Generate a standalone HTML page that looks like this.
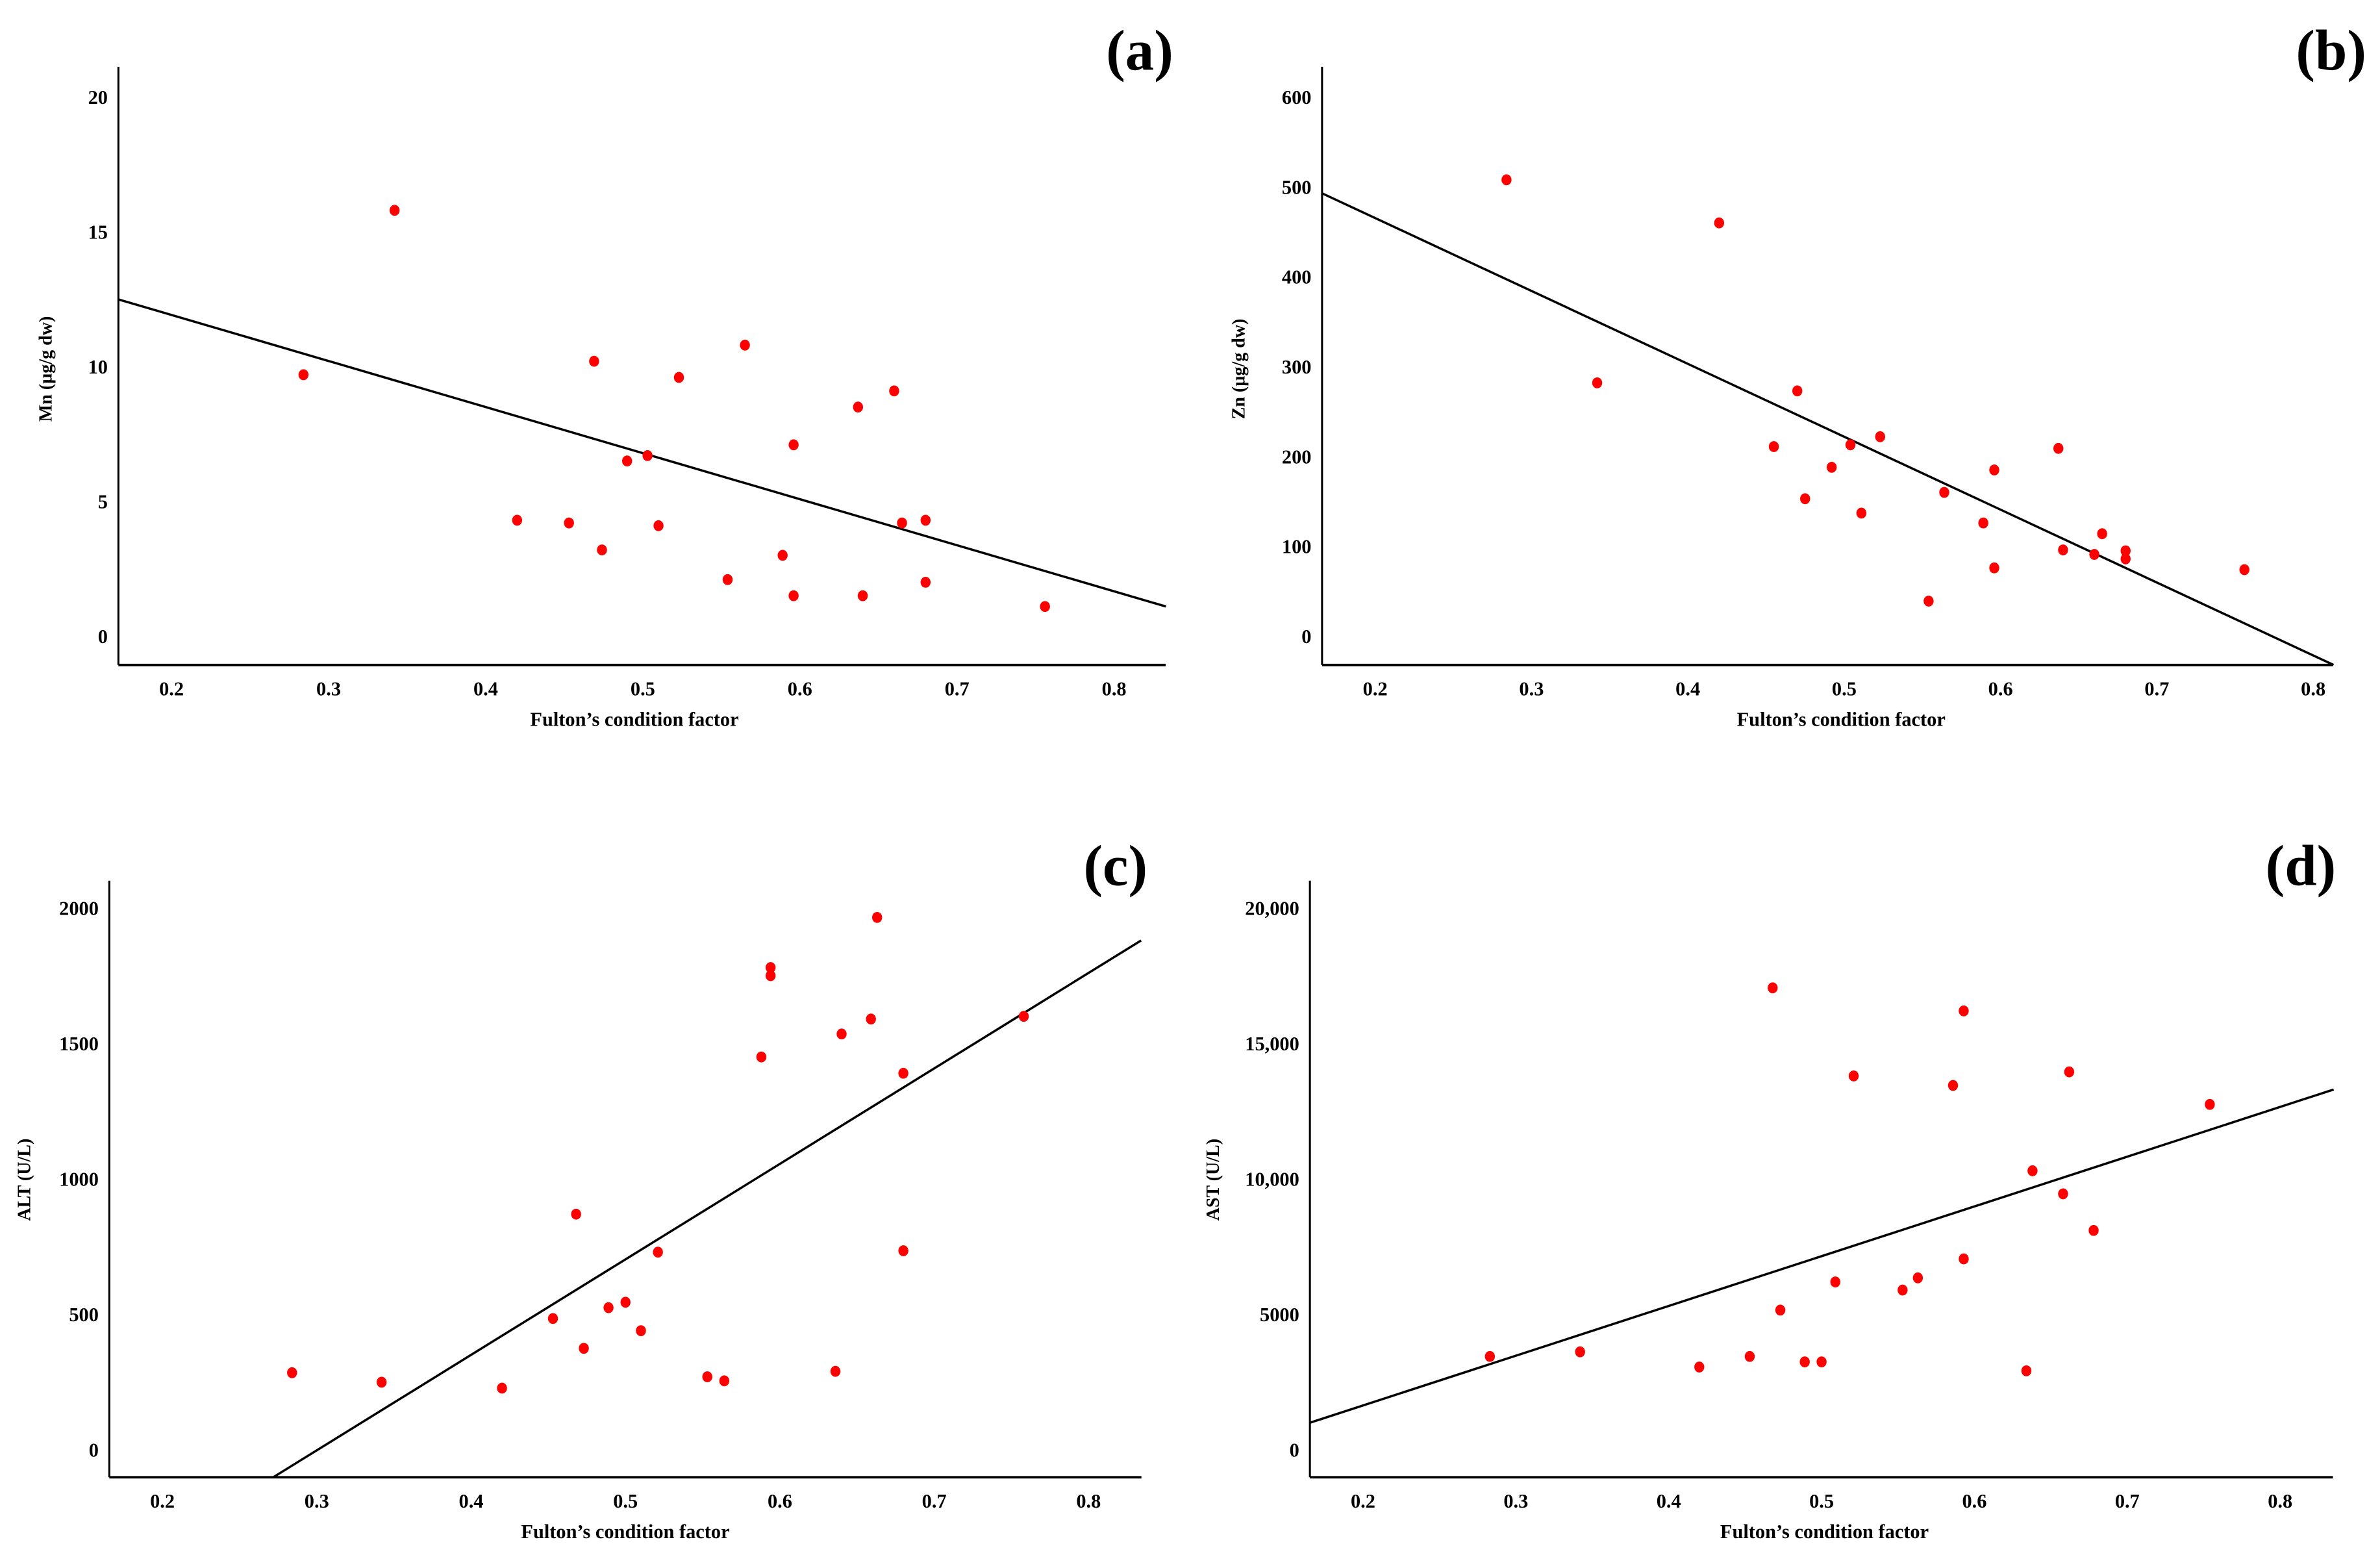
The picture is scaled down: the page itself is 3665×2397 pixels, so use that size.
<!DOCTYPE html>
<html><head><meta charset="utf-8"><style>
html,body{margin:0;padding:0;background:#fff;}
svg{display:block;}
text{font-family:"Liberation Serif",serif;font-weight:bold;fill:#000;}
</style></head><body>
<svg id="chart" width="3665" height="2397" viewBox="0 0 1568 1025.5" preserveAspectRatio="none" xmlns="http://www.w3.org/2000/svg"></svg>
<script>
const xTicks = [0.2,0.3,0.4,0.5,0.6,0.7,0.8];
const xTickLabels = ["0.2","0.3","0.4","0.5","0.6","0.7","0.8"];
// Panel a: Mn
const aX = [0.284,0.342,0.42,0.453,0.469,0.474,0.49,0.503,0.51,0.523,0.554,0.565,0.589,0.596,0.596,0.637,0.64,0.66,0.665,0.68,0.68,0.756];
const aY = [9.7,15.8,4.3,4.2,10.2,3.2,6.5,6.7,4.1,9.6,2.1,10.8,3.0,7.1,1.5,8.5,1.5,9.1,4.2,4.3,2.0,1.1];
const aFitX = [0.166,0.833];
const aFitY = [12.5,1.1];
const aYTicks = [0,5,10,15,20];
const aYTickLabels = ["0","5","10","15","20"];
// Panel b: Zn
const bX = [0.284,0.342,0.42,0.455,0.47,0.475,0.492,0.504,0.511,0.523,0.554,0.564,0.589,0.596,0.596,0.637,0.64,0.66,0.665,0.68,0.68,0.756];
const bY = [508,282,460,211,273,153,188,213,137,222,39,160,126,185,76,209,96,91,114,95,86,74];
const bFitX = [0.166,0.813];
const bFitY = [493,-32];
const bYTicks = [0,100,200,300,400,500,600];
const bYTickLabels = ["0","100","200","300","400","500","600"];
// Panel c: ALT
const cX = [0.284,0.342,0.42,0.453,0.468,0.473,0.489,0.5,0.51,0.521,0.553,0.564,0.588,0.594,0.594,0.636,0.64,0.659,0.663,0.68,0.68,0.758];
const cY = [285,250,228,485,870,375,525,545,440,730,270,255,1450,1780,1750,290,1535,1590,1965,1390,735,1600];
const cFitX = [0.272,0.834];
const cFitY = [-100,1880];
const cYTicks = [0,500,1000,1500,2000];
const cYTickLabels = ["0","500","1000","1500","2000"];
// Panel d: AST
const dX = [0.283,0.342,0.42,0.453,0.468,0.473,0.489,0.5,0.509,0.521,0.553,0.563,0.586,0.593,0.593,0.634,0.638,0.658,0.662,0.678,0.754];
const dY = [3450,3620,3060,3450,17050,5160,3250,3250,6200,13800,5900,6350,13450,16200,7050,2920,10300,9450,13950,8100,12750];
const dFitX = [0.165,0.835];
const dFitY = [1000,13300];
const dYTicks = [0,5000,10000,15000,20000];
const dYTickLabels = ["0","5000","10,000","15,000","20,000"];

const NS="http://www.w3.org/2000/svg";
const svg=document.getElementById('chart');
function mk(tag,attrs,parent){const e=document.createElementNS(NS,tag);for(const k in attrs)e.setAttribute(k,attrs[k]);(parent||svg).appendChild(e);return e;}

function panel(p){
  const g=mk('g',{});
  
  
  const xs=v=>p.x02+(v-0.2)*p.xUnit*10;
  const ys=v=>p.y0-(v-p.yT[0])/(p.yT[p.yT.length-1]-p.yT[0])*(p.y0-p.yTop);
  // axes
  const ya=mk('line',{x1:p.ax,y1:p.axTop,x2:p.ax,y2:p.axB,stroke:'#000','stroke-width':1.3},g);
  
  
  const xa=mk('line',{x1:p.ax,y1:p.axB,x2:p.axR,y2:p.axB,stroke:'#000','stroke-width':1.6},g);
  
  
  xTicks.forEach((v,i)=>{const t=mk('text',{x:xs(v),y:p.axB+20,'text-anchor':'middle','font-size':13},g);t.textContent=xTickLabels[i];
    
    });
  p.yT.forEach((v,i)=>{const t=mk('text',{x:p.ax-7,y:ys(v)+4.5,'text-anchor':'end','font-size':13},g);t.textContent=p.yL[i];
    
    });
  const fl=mk('line',{x1:xs(p.fx[0]),y1:ys(p.fy[0]),x2:xs(p.fx[1]),y2:ys(p.fy[1]),stroke:'#000','stroke-width':1.5},g);
  
  
  p.X.forEach((v,i)=>{const c=mk('ellipse',{cx:xs(v),cy:ys(p.Y[i]),rx:3.3,ry:3.6,fill:'#ff0000'},g);
    
    });
  const xt=mk('text',{x:p.xtX,y:p.axB+40,'text-anchor':'middle','font-size':13},g);xt.textContent="Fulton’s condition factor";
  
  
  const yt=mk('text',{x:0,y:0,'text-anchor':'middle','font-size':12,transform:`translate(${p.ytX},${p.ytY}) rotate(-90)`},g);yt.textContent=p.ytitle;
  
  
  const pl=mk('text',{x:p.plX,y:p.plY,'text-anchor':'end','font-size':38},g);pl.textContent='('+p.id+')';
  
  
}
panel({id:'a',x02:113,xUnit:103.5,y0:419,yTop:64,yT:aYTicks,yL:aYTickLabels,ax:78,axTop:44,axB:438,axR:768,X:aX,Y:aY,fx:aFitX,fy:aFitY,xtX:418,ytX:34,ytY:243,ytitle:'Mn (µg/g dw)',plX:773,plY:46});
panel({id:'b',x02:906,xUnit:103,y0:419,yTop:64,yT:bYTicks,yL:bYTickLabels,ax:871,axTop:44,axB:438,axR:1537,X:bX,Y:bY,fx:bFitX,fy:bFitY,xtX:1213,ytX:820,ytY:243,ytitle:'Zn (µg/g dw)',plX:1559,plY:46});
panel({id:'c',x02:107,xUnit:101.7,y0:955,yTop:598,yT:cYTicks,yL:cYTickLabels,ax:72,axTop:580,axB:973,axR:752,X:cX,Y:cY,fx:cFitX,fy:cFitY,xtX:412,ytX:20,ytY:777,ytitle:'ALT (U/L)',plX:756,plY:583});
panel({id:'d',x02:898,xUnit:100.7,y0:955,yTop:598,yT:dYTicks,yL:dYTickLabels,ax:863,axTop:580,axB:973,axR:1537,X:dX,Y:dY,fx:dFitX,fy:dFitY,xtX:1202,ytX:803,ytY:777,ytitle:'AST (U/L)',plX:1539,plY:583});
</script>
</body></html>
